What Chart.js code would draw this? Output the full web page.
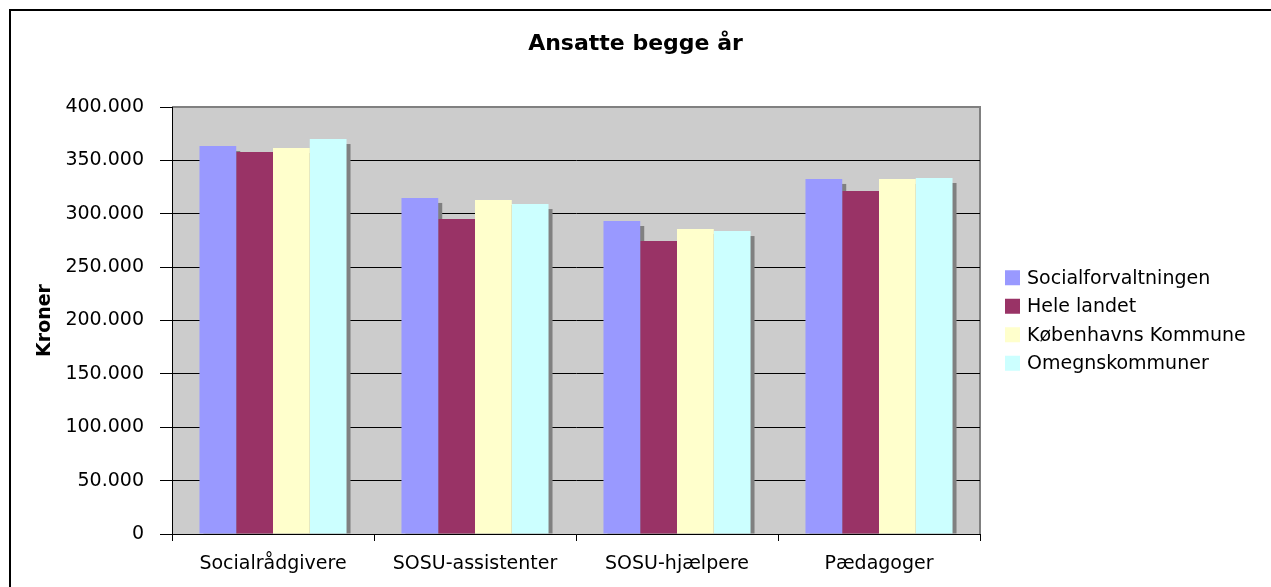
<!DOCTYPE html>
<html>
<head>
<meta charset="utf-8">
<script src="https://cdn.jsdelivr.net/npm/chart.js@4"></script>
<style>
  html, body { margin: 0; padding: 0; background: #fff; }
  #wrap { width: 1271px; height: 587px; }
</style>
</head>
<body>
<div id="wrap"><canvas id="lonChart" width="1271" height="587"></canvas></div>
<script>
// kategorier og serier (kroner)
const categories = ['Socialrådgivere', 'SOSU-assistenter', 'SOSU-hjælpere', 'Pædagoger'];
const seriesNames = ['Socialforvaltningen', 'Hele landet', 'Københavns Kommune', 'Omegnskommuner'];
const socialforvaltningen = [363500, 314800, 293200, 332600];
const heleLandet = [357800, 295100, 274500, 321300];
const kobenhavnsKommune = [361600, 312900, 285700, 332600];
const omegnskommuner = [370000, 309100, 283800, 333500];
const yTicks = [0, 50000, 100000, 150000, 200000, 250000, 300000, 350000, 400000];

const colors = ['#9999FF', '#993366', '#FFFFCC', '#CCFFFF'];
const FONT = 'DejaVu Sans';

function danskTal(v) {
    return String(v).replace(/\B(?=(\d{3})+(?!\d))/g, '.');
}

// grå plotbaggrund, ramme om hele diagrammet
const baggrund = {
    id: 'baggrund',
    beforeDraw(chart) {
        const { ctx, chartArea: a } = chart;
        ctx.save();
        ctx.fillStyle = '#CCCCCC';
        ctx.fillRect(a.left, a.top, a.right - a.left, a.bottom - a.top);
        ctx.strokeStyle = '#808080';
        ctx.lineWidth = 2;
        ctx.beginPath();
        ctx.moveTo(a.left, a.top);
        ctx.lineTo(a.right, a.top);
        ctx.lineTo(a.right, a.bottom);
        ctx.stroke();
        // ydre ramme
        ctx.strokeStyle = '#000';
        ctx.lineWidth = 2;
        ctx.beginPath();
        ctx.moveTo(10, chart.height);
        ctx.lineTo(10, 10);
        ctx.lineTo(chart.width, 10);
        ctx.stroke();
        ctx.restore();
    }
};

// skygge bag søjlerne
const skygge = {
    id: 'skygge',
    beforeDatasetsDraw(chart) {
        const { ctx, chartArea: a } = chart;
        ctx.save();
        ctx.beginPath();
        ctx.rect(a.left, a.top, a.right - a.left, a.bottom - a.top);
        ctx.clip();
        ctx.fillStyle = '#808080';
        chart.data.datasets.forEach((ds, i) => {
            chart.getDatasetMeta(i).data.forEach(el => {
                const h = el.base - el.y - 5;
                if (h > 0) ctx.fillRect(el.x - el.width / 2 + 4, el.y + 5, el.width, h);
            });
        });
        ctx.restore();
    }
};

// forklaring til højre
const forklaring = {
    id: 'forklaring',
    afterDraw(chart) {
        const { ctx, chartArea: a } = chart;
        const step = 28.5;
        const n = chart.data.datasets.length;
        const midt = (a.top + a.bottom) / 2;
        const x0 = a.right + 25;
        ctx.save();
        ctx.font = '19px "' + FONT + '"';
        ctx.textBaseline = 'middle';
        ctx.textAlign = 'left';
        chart.data.datasets.forEach((ds, i) => {
            const cy = midt - (n * step) / 2 + step / 2 + i * step;
            ctx.fillStyle = ds.backgroundColor;
            ctx.fillRect(x0, cy - 7.5, 15, 15);
            ctx.fillStyle = '#000';
            ctx.fillText(ds.label, x0 + 22, cy + 1);
        });
        ctx.restore();
    }
};

const seriesData = [socialforvaltningen, heleLandet, kobenhavnsKommune, omegnskommuner];

new Chart(document.getElementById('lonChart'), {
    type: 'bar',
    data: {
        labels: categories,
        datasets: seriesNames.map((name, i) => ({
            label: name,
            data: seriesData[i],
            backgroundColor: colors[i],
            borderWidth: 0,
            barPercentage: 1,
            categoryPercentage: 0.728
        }))
    },
    options: {
        responsive: false,
        animation: false,
        layout: { padding: 0 },
        plugins: {
            legend: { display: false },
            tooltip: { enabled: false },
            title: {
                display: true,
                text: 'Ansatte begge år',
                color: '#000',
                font: { family: FONT, size: 22, weight: 'bold' },
                padding: { top: 31, bottom: 49.6 }
            }
        },
        scales: {
            x: {
                grid: {
                    offset: true,
                    drawOnChartArea: false,
                    drawTicks: true,
                    tickLength: 7,
                    color: '#000'
                },
                border: { color: '#000', width: 1 },
                ticks: {
                    color: '#000',
                    padding: 12,
                    font: { family: FONT, size: 19 },
                    maxRotation: 0
                },
                afterFit(scale) { scale.height = 53; }
            },
            y: {
                min: 0,
                max: 400000,
                afterBuildTicks(scale) { scale.ticks = yTicks.map(v => ({ value: v })); },
                grid: {
                    color: c => (c.tick && c.tick.value === 400000) ? 'rgba(0,0,0,0)' : '#000',
                    tickColor: '#000',
                    tickLength: 12,
                    lineWidth: 1
                },
                border: { color: '#000', width: 1 },
                ticks: {
                    color: '#000',
                    padding: 16,
                    font: { family: FONT, size: 19 },
                    callback: v => danskTal(v)
                },
                title: {
                    display: true,
                    text: 'Kroner',
                    color: '#000',
                    font: { family: FONT, size: 19, weight: 'bold' },
                    padding: { top: 34, bottom: 0 }
                },
                afterFit(scale) { scale.width = 172; }
            },
            // tom akse til højre giver plads til forklaringen
            plads: {
                type: 'linear',
                position: 'right',
                display: true,
                grid: { display: false },
                border: { display: false },
                ticks: { display: false },
                afterFit(scale) { scale.width = 291; }
            }
        }
    },
    plugins: [baggrund, skygge, forklaring]
});
</script>
</body>
</html>
